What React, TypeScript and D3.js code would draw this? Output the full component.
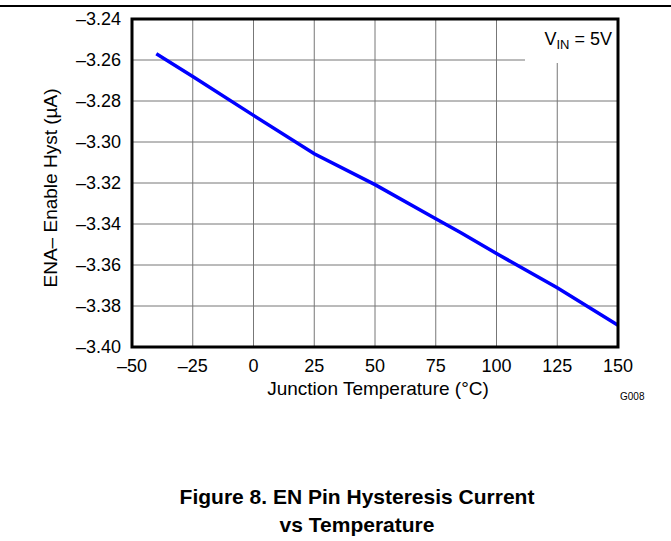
import React from 'react';
import * as d3 from 'd3';

const temps = [-40, -25, 0, 25, 50, 75, 85, 100, 125, 150];
const hyst = [-3.257, -3.268, -3.287, -3.3057, -3.3208, -3.3374, -3.344, -3.3544, -3.3711, -3.3894];

const xTicks = [-50, -25, 0, 25, 50, 75, 100, 125, 150];
const yTicks = [-3.24, -3.26, -3.28, -3.30, -3.32, -3.34, -3.36, -3.38, -3.40];

const W = 671;
const H = 541;
const left = 132, right = 618, top = 19, bottom = 347;
const font = '"Liberation Sans", Arial, sans-serif';

const fmt = (v: number, digits: number) => {
  const s = Math.abs(v).toFixed(digits);
  return v < 0 ? '\u2013' + s : s;
};

const App = () => {
  const x = d3.scaleLinear().domain([-50, 150]).range([left, right]);
  const y = d3.scaleLinear().domain([-3.40, -3.24]).range([bottom, top]);

  const line = d3.line<number>()
    .x((d, i) => x(temps[i]))
    .y((d) => y(d));

  return (
    <svg width={W} height={H} style={{ position: 'absolute', left: 0, top: 0 }} fontFamily={font}>
      <rect width={W} height={H} fill="#fff" />
      {/* rule at the top of the page */}
      <line x1={0} x2={W} y1={6} y2={6} stroke="#000" strokeWidth={2} />

      {/* grid */}
      {xTicks.slice(1, -1).map((t) => (
        <line key={'gx' + t} x1={x(t)} x2={x(t)} y1={top} y2={bottom} stroke="#777" strokeWidth={1} />
      ))}
      {yTicks.slice(1, -1).map((t) => (
        <line key={'gy' + t} x1={left} x2={right} y1={y(t)} y2={y(t)} stroke="#777" strokeWidth={1} />
      ))}

      {/* legend box masks the grid */}
      <rect x={525} y={top} width={right - 525} height={44} fill="#fff" />
      <text x={612} y={45} fontSize={18} textAnchor="end">
        V<tspan fontSize={13} dy={4}>IN</tspan><tspan dy={-4}> = 5V</tspan>
      </text>

      <path d={line(hyst) || ''} fill="none" stroke="#0000ff" strokeWidth={3.5} />

      {/* frame */}
      <rect x={left} y={top} width={right - left} height={bottom - top} fill="none" stroke="#000" strokeWidth={3} />

      {/* y tick labels */}
      {yTicks.map((t) => (
        <text key={'ty' + t} x={121} y={y(t) + 6.3} fontSize={18} textAnchor="end">{fmt(t, 2)}</text>
      ))}
      {/* x tick labels */}
      {xTicks.map((t) => (
        <text key={'tx' + t} x={x(t)} y={372} fontSize={18} textAnchor="middle">{fmt(t, 0)}</text>
      ))}

      <text x={378} y={395} fontSize={19} textAnchor="middle">Junction Temperature (°C)</text>
      <text transform={`translate(57, 188) rotate(-90)`} fontSize={19} textAnchor="middle">
        ENA{'\u2013'} Enable Hyst (µA)
      </text>
      <text x={620} y={400} fontSize={10}>G008</text>

      <text x={357} y={504} fontSize={21} fontWeight="bold" textAnchor="middle">Figure 8. EN Pin Hysteresis Current</text>
      <text x={357} y={532} fontSize={21} fontWeight="bold" textAnchor="middle">vs Temperature</text>
    </svg>
  );
};

export default App;
